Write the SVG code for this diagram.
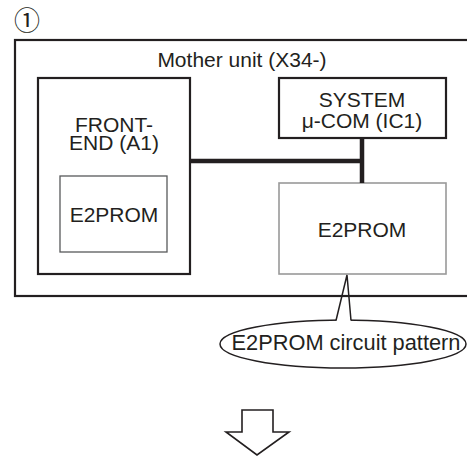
<svg xmlns="http://www.w3.org/2000/svg" width="467" height="456" viewBox="0 0 467 456">
<style>
text{font-family:"Liberation Sans",Arial,sans-serif;font-size:21px;fill:#231f20;text-anchor:middle}
.box{fill:none;stroke:#231f20;stroke-width:2.2}
.bus{stroke:#231f20;stroke-width:4.5;fill:none}
.thin{fill:none;stroke:#231f20;stroke-width:1.5}
</style>
<rect width="467" height="456" fill="#fff"/>
<text x="27" y="30" style="font-family:'Noto Sans CJK JP','DejaVu Sans',sans-serif;font-size:26px">①</text>
<g id="mother">
<rect class="box" x="15" y="40" width="470" height="256"/>
<text x="242" y="67">Mother unit (X34-)</text>
</g>
<g id="frontend">
<rect class="box" x="38" y="78" width="152" height="196"/>
<text x="114" y="132">FRONT-<tspan x="114" dy="18">END (A1)</tspan></text>
</g>
<g id="e2prom-fe">
<rect x="60" y="176" width="107" height="76" fill="none" stroke="#58595b" stroke-width="1.3"/>
<text x="114" y="222">E2PROM</text>
</g>
<g id="syscom">
<rect class="box" x="279" y="78" width="167" height="60"/>
<text x="362" y="107">SYSTEM<tspan x="362" dy="21">μ-COM (IC1)</tspan></text>
</g>
<g id="e2prom">
<rect x="279" y="183" width="167" height="91" fill="none" stroke="#999" stroke-width="1.6"/>
<text x="362" y="237">E2PROM</text>
</g>
<g id="connectors">
<path class="bus" d="M190 161H364M362 138V183"/>
</g>
<g id="callout">
<ellipse class="thin" cx="343" cy="344" rx="123" ry="24"/>
<polygon points="341,300 349.2,300 351,322 336,322" fill="#fff"/>
<polyline class="thin" points="336,320.5 347,275 351,320.5"/>
<text x="346" y="350" style="font-size:21.8px">E2PROM circuit pattern</text>
</g>
<g id="arrow">
<polygon points="242,410 273,410 273,432 289,432 257,455 226,432 242,432" fill="#fff" stroke="#231f20" stroke-width="1.6" stroke-linejoin="miter"/>
</g>
</svg>
